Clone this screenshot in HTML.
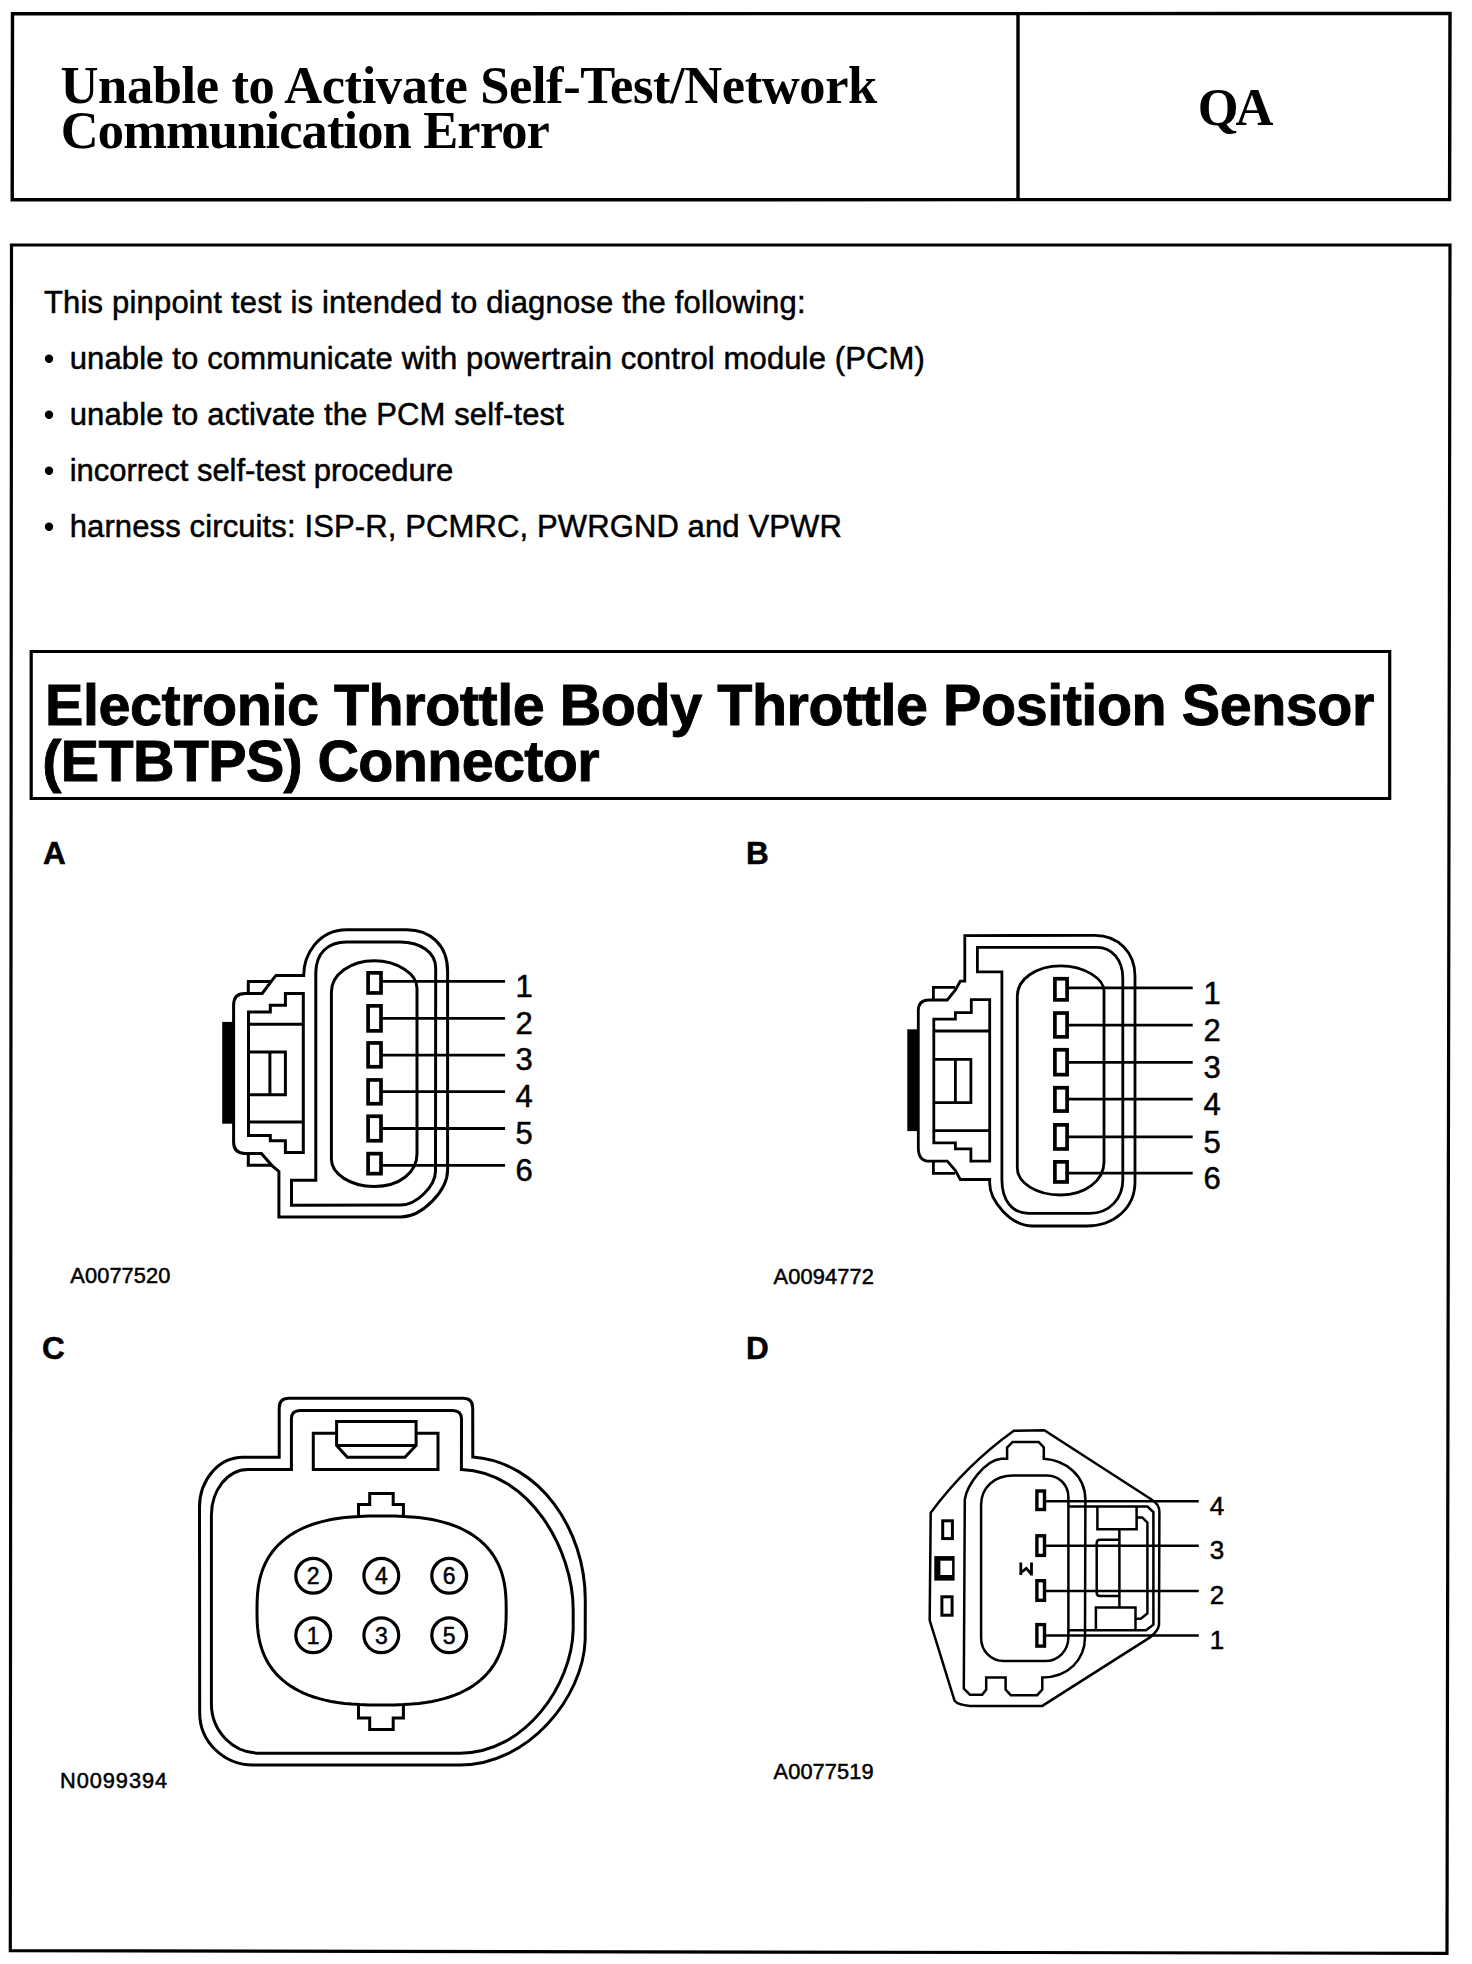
<!DOCTYPE html>
<html><head><meta charset="utf-8"><title>ETBTPS Connector</title>
<style>
html,body{margin:0;padding:0;background:#fff;}
body{width:1472px;height:1964px;overflow:hidden;font-family:"Liberation Sans", sans-serif;}
svg{display:block;}
</style></head>
<body>
<svg width="1472" height="1964" viewBox="0 0 1472 1964">
<rect x="0" y="0" width="1472" height="1964" fill="#fff"/>
<path d="M12.5 13.8 L1450 13.5 L1449.6 199.6 L12.2 199.8 Z" fill="none" stroke="#000" stroke-width="3.4" />
<line x1="1018" y1="13.5" x2="1018" y2="199.6" stroke="#000" stroke-width="3.4"/>
<path d="M11.5 245 L1450 245 L1447 1953.3 L10.3 1950.7 Z" fill="none" stroke="#000" stroke-width="3.2" />
<path d="M31.2 651.5 L1389.7 651.5 L1389.7 798.5 L31.2 798.5 Z" fill="none" stroke="#000" stroke-width="3.2" />
<text id="t1" x="60.6" y="103" font-family='"Liberation Serif", serif' font-size="52.5" font-weight="bold" text-anchor="start" textLength="816.66" lengthAdjust="spacing" >Unable to Activate Self-Test/Network</text>
<text id="t2" x="60.8" y="147.5" font-family='"Liberation Serif", serif' font-size="52.5" font-weight="bold" text-anchor="start" textLength="489.03" lengthAdjust="spacing" >Communication Error</text>
<text id="t3" x="1235.5" y="124.6" font-family='"Liberation Serif", serif' font-size="52.5" font-weight="bold" text-anchor="middle" textLength="75.75" lengthAdjust="spacing" >QA</text>
<text id="t4" x="44.0" y="312.8" font-family='"Liberation Sans", sans-serif' font-size="31" font-weight="normal" text-anchor="start" textLength="761.57" lengthAdjust="spacing" stroke="#000" stroke-width="0.5" >This pinpoint test is intended to diagnose the following:</text>
<circle cx="49" cy="358.7" r="4.2" fill="#000"/>
<text id="t5" x="69.7" y="368.7" font-family='"Liberation Sans", sans-serif' font-size="31" font-weight="normal" text-anchor="start" textLength="855.10" lengthAdjust="spacing" stroke="#000" stroke-width="0.5" >unable to communicate with powertrain control module (PCM)</text>
<circle cx="49" cy="414.8" r="4.2" fill="#000"/>
<text id="t6" x="69.7" y="424.8" font-family='"Liberation Sans", sans-serif' font-size="31" font-weight="normal" text-anchor="start" textLength="494.16" lengthAdjust="spacing" stroke="#000" stroke-width="0.5" >unable to activate the PCM self-test</text>
<circle cx="49" cy="470.8" r="4.2" fill="#000"/>
<text id="t7" x="69.7" y="480.8" font-family='"Liberation Sans", sans-serif' font-size="31" font-weight="normal" text-anchor="start" textLength="383.52" lengthAdjust="spacing" stroke="#000" stroke-width="0.5" >incorrect self-test procedure</text>
<circle cx="49" cy="526.8" r="4.2" fill="#000"/>
<text id="t8" x="69.7" y="536.8" font-family='"Liberation Sans", sans-serif' font-size="31" font-weight="normal" text-anchor="start" textLength="772.13" lengthAdjust="spacing" stroke="#000" stroke-width="0.5" >harness circuits: ISP-R, PCMRC, PWRGND and VPWR</text>
<text id="t9" x="45.0" y="725" font-family='"Liberation Sans", sans-serif' font-size="57.5" font-weight="bold" text-anchor="start" textLength="1329.38" lengthAdjust="spacing" stroke="#000" stroke-width="0.9" >Electronic Throttle Body Throttle Position Sensor</text>
<text id="t10" x="42.3" y="780.5" font-family='"Liberation Sans", sans-serif' font-size="57.5" font-weight="bold" text-anchor="start" textLength="557.31" lengthAdjust="spacing" stroke="#000" stroke-width="0.9" >(ETBTPS) Connector</text>
<text id="t11" x="43" y="863.8" font-family='"Liberation Sans", sans-serif' font-size="31.5" font-weight="bold" text-anchor="start" stroke="#000" stroke-width="0.5" >A</text>
<text id="t12" x="746" y="863.8" font-family='"Liberation Sans", sans-serif' font-size="31.5" font-weight="bold" text-anchor="start" stroke="#000" stroke-width="0.5" >B</text>
<text id="t13" x="42" y="1358.5" font-family='"Liberation Sans", sans-serif' font-size="31.5" font-weight="bold" text-anchor="start" stroke="#000" stroke-width="0.5" >C</text>
<text id="t14" x="746" y="1358.7" font-family='"Liberation Sans", sans-serif' font-size="31.5" font-weight="bold" text-anchor="start" stroke="#000" stroke-width="0.5" >D</text>
<text id="t15" x="70.3" y="1283" font-family='"Liberation Sans", sans-serif' font-size="21.8" font-weight="normal" text-anchor="start" textLength="100.11" lengthAdjust="spacing" stroke="#000" stroke-width="0.5" >A0077520</text>
<text id="t16" x="773.6" y="1284" font-family='"Liberation Sans", sans-serif' font-size="21.8" font-weight="normal" text-anchor="start" textLength="100.21" lengthAdjust="spacing" stroke="#000" stroke-width="0.5" >A0094772</text>
<text id="t17" x="60.0" y="1787.6" font-family='"Liberation Sans", sans-serif' font-size="21.8" font-weight="normal" text-anchor="start" textLength="107.11" lengthAdjust="spacing" stroke="#000" stroke-width="0.5" >N0099394</text>
<text id="t18" x="773.6" y="1779.1" font-family='"Liberation Sans", sans-serif' font-size="21.8" font-weight="normal" text-anchor="start" textLength="99.91" lengthAdjust="spacing" stroke="#000" stroke-width="0.5" >A0077519</text>
<path d="M303.7 975.4 C303.7 955 318 929.7 346.7 929.7 L406.8 929.7 C430 929.7 447.6 945 447.6 971 L447.6 1170 C447.6 1191 421.8 1217 400.7 1217 L278.9 1217 L278.9 1171.4 L272 1165.6 L261.4 1153.4 L245 1153.4 Q233.6 1153.4 233.6 1142 L233.6 1005 Q233.6 993.4 245 993.4 L262.2 993.4 L272 980.3 L276 975.4 Z" fill="none" stroke="#000" stroke-width="3" />
<path d="M248.3 993.4 L248.3 981.5 L271 981.5" fill="none" stroke="#000" stroke-width="3" />
<path d="M248.3 1153.4 L248.3 1165.2 L271 1165.2" fill="none" stroke="#000" stroke-width="3" />
<rect x="222.2" y="1021.9" width="12.300000000000011" height="101.80000000000007" fill="#000"/>
<path d="M248.5 1012.1 L270.3 1012.1 L270.3 1005.2 L285.4 1005.2 L285.4 993.4 L303.3 993.4 L303.3 1152.6 L285.4 1152.6 L285.4 1140.8 L270.3 1140.8 L270.3 1135.5 L248.5 1135.5 Z" fill="none" stroke="#000" stroke-width="3" />
<line x1="248.5" y1="1024.3" x2="303.3" y2="1024.3" stroke="#000" stroke-width="3"/>
<line x1="248.5" y1="1122.1" x2="303.3" y2="1122.1" stroke="#000" stroke-width="3"/>
<path d="M248.5 1052 L285.4 1052 L285.4 1094.8 L248.5 1094.8" fill="none" stroke="#000" stroke-width="3" />
<line x1="269.9" y1="1052" x2="269.9" y2="1094.8" stroke="#000" stroke-width="3"/>
<path d="M315.8 1180.3 L315.8 973 C315.8 953 328 941.9 346.7 941.9 L400 941.9 C420 941.9 435.7 952 435.7 968 L435.5 1171 C435.5 1186.3 416.4 1205 400.7 1205 L291.5 1205.3 L291.5 1180.3 Z" fill="none" stroke="#000" stroke-width="3" />
<path d="M331.4 992 C331.4 974.5 350.5 960.8 374.2 960.8 C397.9 960.8 417 974.5 417 988 L417 1154 C417 1172 400 1186.5 374.2 1186.5 C350.5 1186.5 331.4 1174 331.4 1159 Z" fill="none" stroke="#000" stroke-width="3" />
<rect x="368.1" y="972.85" width="12.9" height="20.099999999999955" rx="0" fill="none" stroke="#000" stroke-width="3.7"/>
<line x1="382" y1="981.4" x2="505.1" y2="981.4" stroke="#000" stroke-width="2.8"/>
<text id="t19" x="524" y="996.6" font-family='"Liberation Sans", sans-serif' font-size="31" font-weight="normal" text-anchor="middle" stroke="#000" stroke-width="0.5" >1</text>
<rect x="368.1" y="1005.85" width="12.9" height="25.000000000000046" rx="0" fill="none" stroke="#000" stroke-width="3.7"/>
<line x1="382" y1="1018.3" x2="505.1" y2="1018.3" stroke="#000" stroke-width="2.8"/>
<text id="t20" x="524" y="1033.5" font-family='"Liberation Sans", sans-serif' font-size="31" font-weight="normal" text-anchor="middle" stroke="#000" stroke-width="0.5" >2</text>
<rect x="368.1" y="1042.9499999999998" width="12.9" height="23.8" rx="0" fill="none" stroke="#000" stroke-width="3.7"/>
<line x1="382" y1="1055.2" x2="505.1" y2="1055.2" stroke="#000" stroke-width="2.8"/>
<text id="t21" x="524" y="1070.4" font-family='"Liberation Sans", sans-serif' font-size="31" font-weight="normal" text-anchor="middle" stroke="#000" stroke-width="0.5" >3</text>
<rect x="368.1" y="1079.9499999999998" width="12.9" height="23.8" rx="0" fill="none" stroke="#000" stroke-width="3.7"/>
<line x1="382" y1="1091.7" x2="505.1" y2="1091.7" stroke="#000" stroke-width="2.8"/>
<text id="t22" x="524" y="1106.9" font-family='"Liberation Sans", sans-serif' font-size="31" font-weight="normal" text-anchor="middle" stroke="#000" stroke-width="0.5" >4</text>
<rect x="368.1" y="1116.25" width="12.9" height="24.49999999999982" rx="0" fill="none" stroke="#000" stroke-width="3.7"/>
<line x1="382" y1="1128.5" x2="505.1" y2="1128.5" stroke="#000" stroke-width="2.8"/>
<text id="t23" x="524" y="1143.7" font-family='"Liberation Sans", sans-serif' font-size="31" font-weight="normal" text-anchor="middle" stroke="#000" stroke-width="0.5" >5</text>
<rect x="368.1" y="1153.6499999999999" width="12.9" height="20.000000000000046" rx="0" fill="none" stroke="#000" stroke-width="3.7"/>
<line x1="382" y1="1165.4" x2="505.1" y2="1165.4" stroke="#000" stroke-width="2.8"/>
<text id="t24" x="524" y="1180.6000000000001" font-family='"Liberation Sans", sans-serif' font-size="31" font-weight="normal" text-anchor="middle" stroke="#000" stroke-width="0.5" >6</text>
<path d="M964.8 981.2 L964.8 935.6 L1094.8 935.4 C1118 935.4 1135 952 1135 976 L1135 1181.7 C1135 1208 1114 1226 1086.6 1226 L1032.6 1226 C1010 1226 989.7 1200 989.7 1183.6 L989.7 1179.5 L960.3 1179.5 L955.4 1170.5 L947.3 1161.2 L929.3 1161.2 Q918.3 1161.2 918.3 1147.7 L918.3 1010.6 Q918.3 1000 929.3 1000 L947.3 1000 L955.4 990 L960.3 981.2 Z" fill="none" stroke="#000" stroke-width="2.8" />
<path d="M933.4 1000 L933.4 987.4 L955 987.4" fill="none" stroke="#000" stroke-width="2.8" />
<path d="M933.4 1161.2 L933.4 1173.4 L955 1173.4" fill="none" stroke="#000" stroke-width="2.8" />
<rect x="907.3" y="1029.3" width="11.5" height="101.79999999999995" fill="#000"/>
<path d="M933.8 1019.2 L955.4 1019.2 L955.4 1012.6 L971.3 1012.6 L971.3 999.6 L989.7 999.6 L989.7 1161.2 L970.9 1161.2 L970.9 1148.9 L955.4 1148.9 L955.4 1142.8 L933.8 1142.8 Z" fill="none" stroke="#000" stroke-width="2.8" />
<line x1="933.8" y1="1031" x2="989.7" y2="1031" stroke="#000" stroke-width="2.8"/>
<line x1="933.8" y1="1130.7" x2="989.7" y2="1130.7" stroke="#000" stroke-width="2.8"/>
<path d="M933.8 1059.3 L970.9 1059.3 L970.9 1102.6 L933.8 1102.6" fill="none" stroke="#000" stroke-width="2.8" />
<line x1="955.4" y1="1059.3" x2="955.4" y2="1102.6" stroke="#000" stroke-width="2.8"/>
<path d="M1001.9 1179.7 L1001.9 971.9 L977.4 971.9 L977.4 947.4 L1096.8 947.4 C1112 947.4 1122.8 960 1122.8 978 L1122.8 1179.7 C1122.8 1198 1110 1213.3 1089.7 1213.3 L1028.5 1213.3 C1012 1213.3 1001.9 1200 1001.9 1179.7 Z" fill="none" stroke="#000" stroke-width="2.8" />
<path d="M1017.3 996 C1017.3 979 1036.6 965.8 1060.6 965.8 C1084.6 965.8 1104 979 1104 991 L1104 1162 C1104 1181 1084.6 1195 1060.6 1195 C1036.6 1195 1017.3 1183 1017.3 1168 Z" fill="none" stroke="#000" stroke-width="2.8" />
<rect x="1054.9" y="978.75" width="12.2" height="21.10000000000007" rx="0" fill="none" stroke="#000" stroke-width="3.7"/>
<line x1="1069" y1="987.8" x2="1192.7" y2="987.8" stroke="#000" stroke-width="2.7"/>
<text id="t25" x="1212" y="1003.8" font-family='"Liberation Sans", sans-serif' font-size="31" font-weight="normal" text-anchor="middle" stroke="#000" stroke-width="0.5" >1</text>
<rect x="1054.9" y="1013.0500000000001" width="12.2" height="23.8" rx="0" fill="none" stroke="#000" stroke-width="3.7"/>
<line x1="1069" y1="1025.1" x2="1192.7" y2="1025.1" stroke="#000" stroke-width="2.7"/>
<text id="t26" x="1212" y="1041.1" font-family='"Liberation Sans", sans-serif' font-size="31" font-weight="normal" text-anchor="middle" stroke="#000" stroke-width="0.5" >2</text>
<rect x="1054.9" y="1049.75" width="12.2" height="24.89999999999991" rx="0" fill="none" stroke="#000" stroke-width="3.7"/>
<line x1="1069" y1="1062.3" x2="1192.7" y2="1062.3" stroke="#000" stroke-width="2.7"/>
<text id="t27" x="1212" y="1078.3" font-family='"Liberation Sans", sans-serif' font-size="31" font-weight="normal" text-anchor="middle" stroke="#000" stroke-width="0.5" >3</text>
<rect x="1054.9" y="1087.75" width="12.2" height="23.3" rx="0" fill="none" stroke="#000" stroke-width="3.7"/>
<line x1="1069" y1="1099.2" x2="1192.7" y2="1099.2" stroke="#000" stroke-width="2.7"/>
<text id="t28" x="1212" y="1115.2" font-family='"Liberation Sans", sans-serif' font-size="31" font-weight="normal" text-anchor="middle" stroke="#000" stroke-width="0.5" >4</text>
<rect x="1054.9" y="1124.85" width="12.2" height="24.099999999999955" rx="0" fill="none" stroke="#000" stroke-width="3.7"/>
<line x1="1069" y1="1136.9" x2="1192.7" y2="1136.9" stroke="#000" stroke-width="2.7"/>
<text id="t29" x="1212" y="1152.9" font-family='"Liberation Sans", sans-serif' font-size="31" font-weight="normal" text-anchor="middle" stroke="#000" stroke-width="0.5" >5</text>
<rect x="1054.9" y="1161.85" width="12.2" height="20.099999999999955" rx="0" fill="none" stroke="#000" stroke-width="3.7"/>
<line x1="1069" y1="1173.2" x2="1192.7" y2="1173.2" stroke="#000" stroke-width="2.7"/>
<text id="t30" x="1212" y="1189.2" font-family='"Liberation Sans", sans-serif' font-size="31" font-weight="normal" text-anchor="middle" stroke="#000" stroke-width="0.5" >6</text>
<path d="M279.2 1457.3 L279.2 1408 Q279.2 1398.2 289 1398.2 L463 1398.2 Q472.7 1398.2 472.7 1408 L472.8 1457.1 C540 1462 585.3 1530 585.3 1600 L585.2 1640 C583 1698 528 1765 460 1765 L253.2 1765 C223.7 1765 199.7 1741.7 199.7 1713 L199.5 1507.2 C199.5 1479.6 218.8 1457.3 243 1457.3 Z" fill="none" stroke="#000" stroke-width="3.0" />
<path d="M291.4 1469.5 L291.4 1419 Q291.4 1410.4 300 1410.4 L452.5 1410.4 Q461.5 1410.4 461.5 1419 L461.4 1469.5 C530 1472 573.2 1550 573.2 1610 L573.2 1629.5 C572 1685 525 1753.2 460 1753.2 L259.3 1753.2 C232.8 1753.2 211.4 1731 211.4 1703.8 L211.4 1515.3 C211.4 1490 227.8 1469.5 248 1469.5 Z" fill="none" stroke="#000" stroke-width="3.0" />
<path d="M313.3 1433.3 L438 1433.3 L438 1469.5 L313.3 1469.5 Z" fill="none" stroke="#000" stroke-width="3.0" />
<path d="M336.6 1421.6 L416.1 1421.6 L416.1 1445.5 L404.9 1457.3 L347.3 1457.3 L336.6 1445.5 Z" fill="#fff" stroke="#000" stroke-width="3.0" />
<line x1="336.6" y1="1445.5" x2="416.1" y2="1445.5" stroke="#000" stroke-width="3.0"/>
<path d="M506.20 1610.50 L506.07 1620.27 L505.67 1627.13 L505.02 1633.18 L504.10 1638.73 L502.92 1643.91 L501.48 1648.79 L499.78 1653.41 L497.83 1657.80 L495.62 1661.98 L493.15 1665.95 L490.43 1669.72 L487.46 1673.29 L484.23 1676.68 L480.76 1679.88 L477.04 1682.89 L473.07 1685.71 L468.86 1688.34 L464.39 1690.78 L459.68 1693.04 L454.71 1695.10 L449.47 1696.97 L443.97 1698.65 L438.18 1700.13 L432.09 1701.42 L425.65 1702.51 L418.82 1703.41 L411.51 1704.10 L403.53 1704.60 L394.48 1704.90 L381.60 1705.00 L368.72 1704.90 L359.67 1704.60 L351.69 1704.10 L344.38 1703.41 L337.55 1702.51 L331.11 1701.42 L325.02 1700.13 L319.23 1698.65 L313.73 1696.97 L308.49 1695.10 L303.52 1693.04 L298.81 1690.78 L294.34 1688.34 L290.13 1685.71 L286.16 1682.89 L282.44 1679.88 L278.97 1676.68 L275.74 1673.29 L272.77 1669.72 L270.05 1665.95 L267.58 1661.98 L265.37 1657.80 L263.42 1653.41 L261.72 1648.79 L260.28 1643.91 L259.10 1638.73 L258.18 1633.18 L257.53 1627.13 L257.13 1620.27 L257.00 1610.50 L257.13 1600.73 L257.53 1593.87 L258.18 1587.82 L259.10 1582.27 L260.28 1577.09 L261.72 1572.21 L263.42 1567.59 L265.37 1563.20 L267.58 1559.02 L270.05 1555.05 L272.77 1551.28 L275.74 1547.71 L278.97 1544.32 L282.44 1541.12 L286.16 1538.11 L290.13 1535.29 L294.34 1532.66 L298.81 1530.22 L303.52 1527.96 L308.49 1525.90 L313.73 1524.03 L319.23 1522.35 L325.02 1520.87 L331.11 1519.58 L337.55 1518.49 L344.38 1517.59 L351.69 1516.90 L359.67 1516.40 L368.72 1516.10 L381.60 1516.00 L394.48 1516.10 L403.53 1516.40 L411.51 1516.90 L418.82 1517.59 L425.65 1518.49 L432.09 1519.58 L438.18 1520.87 L443.97 1522.35 L449.47 1524.03 L454.71 1525.90 L459.68 1527.96 L464.39 1530.22 L468.86 1532.66 L473.07 1535.29 L477.04 1538.11 L480.76 1541.12 L484.23 1544.32 L487.46 1547.71 L490.43 1551.28 L493.15 1555.05 L495.62 1559.02 L497.83 1563.20 L499.78 1567.59 L501.48 1572.21 L502.92 1577.09 L504.10 1582.27 L505.02 1587.82 L505.67 1593.87 L506.07 1600.73 Z" fill="none" stroke="#000" stroke-width="3.0" />
<path d="M358.5 1516 L358.5 1504.6 L369.7 1504.6 L369.7 1493.4 L393.2 1493.4 L393.2 1504.6 L403.4 1504.6 L403.4 1516" fill="none" stroke="#000" stroke-width="3.0" />
<path d="M358.5 1705 L358.5 1718 L369.7 1718 L369.7 1729.5 L393.2 1729.5 L393.2 1718 L403.4 1718 L403.4 1705" fill="none" stroke="#000" stroke-width="3.0" />
<circle cx="313.2" cy="1575.8" r="17.4" fill="none" stroke="#000" stroke-width="3.2"/>
<text id="t31" x="313.2" y="1584.1" font-family='"Liberation Sans", sans-serif' font-size="23" font-weight="normal" text-anchor="middle" stroke="#000" stroke-width="0.5" >2</text>
<circle cx="381.3" cy="1575.8" r="17.4" fill="none" stroke="#000" stroke-width="3.2"/>
<text id="t32" x="381.3" y="1584.1" font-family='"Liberation Sans", sans-serif' font-size="23" font-weight="normal" text-anchor="middle" stroke="#000" stroke-width="0.5" >4</text>
<circle cx="449.2" cy="1575.8" r="17.4" fill="none" stroke="#000" stroke-width="3.2"/>
<text id="t33" x="449.2" y="1584.1" font-family='"Liberation Sans", sans-serif' font-size="23" font-weight="normal" text-anchor="middle" stroke="#000" stroke-width="0.5" >6</text>
<circle cx="313.2" cy="1635.3" r="17.4" fill="none" stroke="#000" stroke-width="3.2"/>
<text id="t34" x="313.2" y="1643.6" font-family='"Liberation Sans", sans-serif' font-size="23" font-weight="normal" text-anchor="middle" stroke="#000" stroke-width="0.5" >1</text>
<circle cx="381.3" cy="1635.3" r="17.4" fill="none" stroke="#000" stroke-width="3.2"/>
<text id="t35" x="381.3" y="1643.6" font-family='"Liberation Sans", sans-serif' font-size="23" font-weight="normal" text-anchor="middle" stroke="#000" stroke-width="0.5" >3</text>
<circle cx="449.2" cy="1635.3" r="17.4" fill="none" stroke="#000" stroke-width="3.2"/>
<text id="t36" x="449.2" y="1643.6" font-family='"Liberation Sans", sans-serif' font-size="23" font-weight="normal" text-anchor="middle" stroke="#000" stroke-width="0.5" >5</text>
<path d="M1013.8 1430.7 L1044.3 1430.2 L1151.9 1499.8 Q1159.4 1504 1159.4 1512 L1159 1625 Q1158 1631 1150 1637.4 L1042.3 1705.9 L969.9 1705.9 Q958 1705 954.6 1700.8 L929.7 1620.3 L930.7 1512.7 Q966 1465 1013.8 1430.7 Z" fill="none" stroke="#000" stroke-width="2.5" />
<path d="M1007.1 1458.7 L1007.1 1447.5 L1012.7 1441.9 L1038.7 1441.9 L1043.8 1447.5 L1043.8 1458.7 C1065 1460 1085.4 1475 1085.4 1500 L1085 1637 C1085 1660 1068 1677.4 1042.3 1677.4 L1042.3 1689.6 L1037.2 1695.2 L1010.7 1695.2 L1005.6 1689.6 L1005.6 1677.4 L986.2 1677.4 L986.2 1689.6 L982.2 1694.7 L969.9 1694.7 L963.8 1688.6 L964.8 1499.5 C967 1485 985 1460 1001.5 1458.7 Z" fill="none" stroke="#000" stroke-width="2.5" />
<path d="M981.1 1505 C981.1 1487 995 1475.5 1013 1475.5 L1047 1475.5 C1059 1475.5 1068.4 1485 1068.4 1497 L1068.4 1637 C1068.4 1651 1058 1661.1 1045 1661.1 L1004 1661.1 C991 1661.1 981.1 1651 981.1 1638 Z" fill="none" stroke="#000" stroke-width="2.5" />
<rect x="1036.9" y="1491.0" width="7.6" height="18.500000000000092" rx="0" fill="none" stroke="#000" stroke-width="3.4"/>
<line x1="1046" y1="1501.2" x2="1198.8" y2="1501.2" stroke="#000" stroke-width="2.5"/>
<text id="t37" x="1217" y="1514.6000000000001" font-family='"Liberation Sans", sans-serif' font-size="26" font-weight="normal" text-anchor="middle" stroke="#000" stroke-width="0.5" >4</text>
<rect x="1036.9" y="1535.8" width="7.6" height="19.6" rx="0" fill="none" stroke="#000" stroke-width="3.4"/>
<line x1="1046" y1="1545.8" x2="1198.8" y2="1545.8" stroke="#000" stroke-width="2.5"/>
<text id="t38" x="1217" y="1559.2" font-family='"Liberation Sans", sans-serif' font-size="26" font-weight="normal" text-anchor="middle" stroke="#000" stroke-width="0.5" >3</text>
<rect x="1036.9" y="1580.7" width="7.6" height="19.6" rx="0" fill="none" stroke="#000" stroke-width="3.4"/>
<line x1="1046" y1="1591" x2="1198.8" y2="1591" stroke="#000" stroke-width="2.5"/>
<text id="t39" x="1217" y="1604.4" font-family='"Liberation Sans", sans-serif' font-size="26" font-weight="normal" text-anchor="middle" stroke="#000" stroke-width="0.5" >2</text>
<rect x="1036.9" y="1624.6000000000001" width="7.6" height="21.499999999999865" rx="0" fill="none" stroke="#000" stroke-width="3.4"/>
<line x1="1046" y1="1635.6" x2="1198.8" y2="1635.6" stroke="#000" stroke-width="2.5"/>
<text id="t40" x="1217" y="1649.0" font-family='"Liberation Sans", sans-serif' font-size="26" font-weight="normal" text-anchor="middle" stroke="#000" stroke-width="0.5" >1</text>
<rect x="942.7" y="1520.8" width="9.7" height="17.8" rx="0" fill="none" stroke="#000" stroke-width="3"/>
<rect x="934.3" y="1556.1" width="20.300000000000068" height="24.5" fill="#000"/>
<rect x="940.4" y="1560.7" width="11.700000000000045" height="14.299999999999955" fill="#fff"/>
<rect x="941.9" y="1596.8" width="10.2" height="18.4" rx="0" fill="none" stroke="#000" stroke-width="3"/>
<path d="M1069 1506.5 L1147.4 1506.5 L1153.4 1512.1 L1153.4 1624.7 L1146 1630.3 L1067.5 1630.3" fill="none" stroke="#000" stroke-width="2.5" />
<path d="M1097.4 1506.5 L1097.4 1529.3 L1136.6 1529.3 L1136.6 1506.5" fill="none" stroke="#000" stroke-width="2.5" />
<path d="M1136.6 1517.4 L1142.2 1517.4 L1147.4 1522.6 L1147.4 1613.5 L1140.7 1618.7 L1135.5 1618.7" fill="none" stroke="#000" stroke-width="2.5" />
<line x1="1119.4" y1="1529.3" x2="1119.4" y2="1607.5" stroke="#000" stroke-width="2.5"/>
<path d="M1119.3 1539.7 L1100 1539.7 Q1096.7 1539.7 1096.7 1543 L1096.7 1593 Q1096.7 1596 1100 1596 L1119.3 1596" fill="none" stroke="#000" stroke-width="2.5" />
<path d="M1095.9 1630.3 L1095.9 1607.5 L1135.5 1607.5 L1135.5 1630.3" fill="none" stroke="#000" stroke-width="2.5" />
<path d="M1020.8 1562.5 V1575 M1031.5 1562.5 V1575.5 M1021 1572.5 L1026.3 1568.3 L1031.3 1574" fill="none" stroke="#000" stroke-width="2.8" />
</svg>
</body></html>
